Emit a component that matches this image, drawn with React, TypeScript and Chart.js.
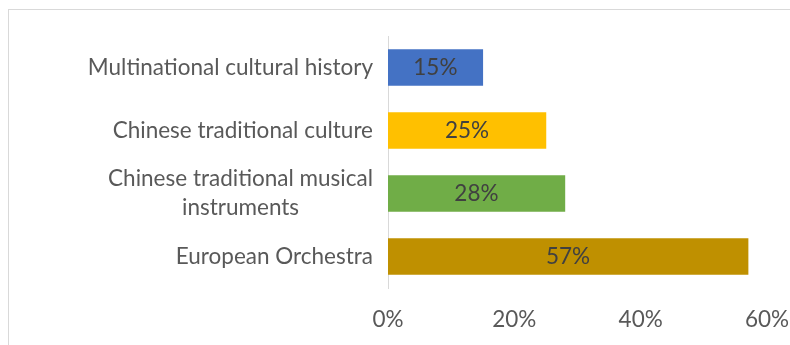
import React, { useEffect, useRef } from "react";
import { Chart, registerables } from "chart.js";

Chart.register(...registerables);

const categories: string[][] = [
  ["Multinational cultural history"],
  ["Chinese traditional culture"],
  ["Chinese traditional musical", "instruments"],
  ["European Orchestra"],
];
const values: number[] = [15, 25, 28, 57];
const barColors: string[] = ["#4472C4", "#FFC000", "#70AD47", "#BF9000"];
const xTicks: number[] = [0, 20, 40, 60];

const FONT = "Lato, 'Open Sans', sans-serif";
const SIZE = 22.5;

const labelPlugin = {
  id: "customLabels",
  afterDatasetsDraw(chart: any) {
    const ctx = chart.ctx;
    const yScale = chart.scales.y;
    ctx.save();
    ctx.font = `${SIZE}px ${FONT}`;
    ctx.fillStyle = "#595959";
    ctx.textBaseline = "middle";
    ctx.textAlign = "center";
    const rightEdge = chart.chartArea.left - 15;
    const lineH = 29;
    categories.forEach((lines, i) => {
      const cy = yScale.getPixelForValue(i);
      const widths = lines.map((l) => ctx.measureText(l).width);
      const bw = Math.max(...widths);
      const cx = rightEdge - bw / 2;
      const startY = cy - ((lines.length - 1) * lineH) / 2;
      lines.forEach((l, j) => ctx.fillText(l, cx, startY + j * lineH));
    });
    ctx.fillStyle = "#404040";
    const meta = chart.getDatasetMeta(0);
    meta.data.forEach((bar: any, i: number) => {
      const cx = (bar.x + bar.base) / 2;
      ctx.fillText(values[i] + "%", cx, bar.y);
    });
    ctx.restore();
  },
};

export default function App() {
  const ref = useRef<HTMLCanvasElement | null>(null);
  useEffect(() => {
    if (!ref.current) return;
    const chart = new Chart(ref.current, {
      type: "bar",
      data: {
        labels: categories.map((c) => c.join(" ")),
        datasets: [
          {
            data: values,
            backgroundColor: barColors,
            borderWidth: 0,
            barThickness: 36,
          },
        ],
      },
      options: {
        indexAxis: "y",
        animation: false,
        responsive: false,
        maintainAspectRatio: false,
        layout: { padding: { top: 36, right: 23, left: 0, bottom: 0 } },
        plugins: { legend: { display: false }, tooltip: { enabled: false } },
        scales: {
          x: {
            min: 0,
            max: 60,
            afterBuildTicks: (scale: any) => {
              scale.ticks = xTicks.map((v) => ({ value: v }));
            },
            afterFit: (scale: any) => {
              scale.height = 57;
              scale.paddingRight = 0;
              scale.paddingLeft = 0;
            },
            grid: { display: false, drawTicks: false },
            border: { display: false },
            ticks: {
              color: "#595959",
              font: { family: FONT, size: SIZE },
              padding: 18,
              callback: (v: any) => v + "%",
              maxRotation: 0,
            },
          },
          y: {
            afterFit: (scale: any) => {
              scale.width = 388;
            },
            grid: { display: false, drawTicks: false },
            border: { display: true, color: "#D9D9D9", width: 1 },
            ticks: { display: false },
          },
        },
      },
      plugins: [labelPlugin],
    });
    return () => chart.destroy();
  }, []);
  return (
    <div style={{ position: "fixed", left: 0, top: 0, width: 790, height: 345, background: "#fff", overflow: "hidden" }}>
      <div
        style={{
          position: "absolute",
          left: 8,
          top: 9,
          width: 820,
          height: 400,
          border: "1px solid #D9D9D9",
          boxSizing: "border-box",
        }}
      />
      <canvas ref={ref} width={790} height={345} style={{ position: "absolute", left: 0, top: 0 }} />
    </div>
  );
}
